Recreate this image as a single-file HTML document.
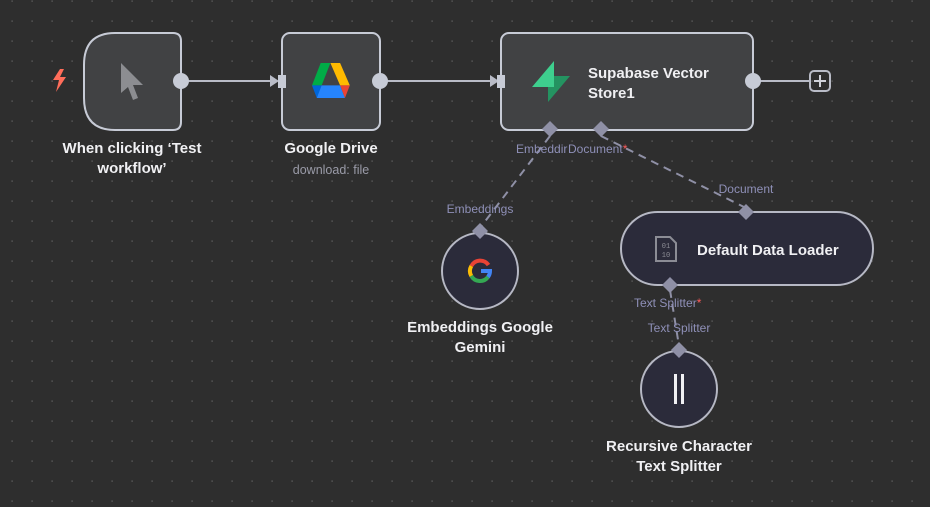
<!DOCTYPE html>
<html><head><meta charset="utf-8"><style>
html,body{margin:0;padding:0;background:#2e2e2e;}
svg{display:block;font-family:"Liberation Sans",sans-serif;}
</style></head><body>
<svg width="930" height="507" viewBox="0 0 930 507" xmlns="http://www.w3.org/2000/svg">
<defs>
<pattern id="d" x="11" y="0" width="20" height="20" patternUnits="userSpaceOnUse">
<rect x="0.5" y="0.5" width="1.2" height="1.2" fill="#6a6a6a"/>
</pattern>
</defs>
<rect width="930" height="507" fill="#2e2e2e"/>
<rect width="930" height="507" fill="url(#d)"/>

<!-- connectors -->
<line x1="181" y1="81" x2="276" y2="81" stroke="#b9bcc7" stroke-width="2"/>
<polygon points="270,75 279,81 270,87" fill="#b9bcc7"/>
<line x1="380" y1="81" x2="497" y2="81" stroke="#b9bcc7" stroke-width="2"/>
<polygon points="490,75 499,81 490,87" fill="#b9bcc7"/>
<line x1="753" y1="81" x2="810" y2="81" stroke="#b9bcc7" stroke-width="2"/>
<rect x="810" y="71" width="20" height="20" rx="4" fill="none" stroke="#b9bcc7" stroke-width="2"/>
<line x1="814" y1="81" x2="826" y2="81" stroke="#d0d2da" stroke-width="2"/>
<line x1="820" y1="75" x2="820" y2="87" stroke="#d0d2da" stroke-width="2"/>

<g stroke="#8f90a6" stroke-width="2" stroke-dasharray="8,6" fill="none">
<path d="M550 136 L480 228"/>
<path d="M601 136 L746 208"/>
<path d="M670 290 L679 346"/>
</g>

<!-- trigger node -->
<path d="M115 33 H173 Q181 33 181 41 V122 Q181 130 173 130 H115 Q84 130 84 98 V65 Q84 33 115 33 Z" fill="#414244" stroke="#c7cbd6" stroke-width="2"/>
<path d="M121 63 L121 93 L128 87 L133 100 L138 98 L133 85 L143 85 Z" fill="#8c8d91"/>
<path d="M60 69 L53 80 L59 80 L56 92 L66 77 L60 77 L64 69 Z" fill="#ff6d5a"/>
<circle cx="181" cy="81" r="8" fill="#c7cbd6"/>

<!-- google drive -->
<rect x="282" y="33" width="98" height="97" rx="8" fill="#414244" stroke="#c7cbd6" stroke-width="2"/>
<rect x="278" y="75" width="8" height="13" fill="#c7cbd6"/>
<g transform="translate(311,63) scale(0.97,1.4)">
<polygon points="10,0 20,0 11,16 1,16" fill="#00ac47"/>
<polygon points="20,0 30,16 40,16 30,0 20,0" fill="#ffba00"/>
<polygon points="1,16 6,25 16,25 11,16" fill="#0066da"/>
<polygon points="11,16 30,16 35,25 6,25" fill="#2684fc"/>
<polygon points="30,16 40,16 35,25" fill="#ea4335"/>
</g>
<circle cx="380" cy="81" r="8" fill="#c7cbd6"/>

<!-- supabase -->
<rect x="501" y="33" width="252" height="97" rx="8" fill="#414244" stroke="#c7cbd6" stroke-width="2"/>
<rect x="497" y="75" width="8" height="13" fill="#c7cbd6"/>
<polygon points="554,61 532,87 554,87" fill="#3ecf8e"/>
<polygon points="548,102 570,76 548,76" fill="#249361"/>
<polygon points="548,76 554,76 554,87 548,87" fill="#3ecf8e"/>
<text x="588" y="78" fill="#f0f0f3" font-size="15" font-weight="bold">Supabase Vector</text>
<text x="588" y="98" fill="#f0f0f3" font-size="15" font-weight="bold">Store1</text>
<circle cx="753" cy="81" r="8" fill="#c7cbd6"/>
<g fill="#8f90a6">
<polygon points="550,121 558,129 550,137 542,129"/>
<polygon points="601,121 609,129 601,137 593,129"/>
</g>
<text x="516" y="153" fill="#8f90b8" font-size="12">Embeddir</text>
<text x="568" y="153" fill="#8f90b8" font-size="12">Document<tspan fill="#ff5c5c">*</tspan></text>

<!-- gemini -->
<circle cx="480" cy="271" r="38" fill="#2b2b3a" stroke="#b6b8c4" stroke-width="2"/>
<polygon points="480,223 488,231 480,239 472,231" fill="#8f90a6"/>
<text x="480" y="213" fill="#8f90b8" font-size="12" text-anchor="middle">Embeddings</text>
<g transform="translate(480,271)" fill="none" stroke-width="4">
<path d="M8.5 -6 A10 10 0 0 0 -8.7 -5" stroke="#ea4335"/>
<path d="M-8.7 -5 A10 10 0 0 0 -8.7 5" stroke="#fbbc05"/>
<path d="M-8.7 5 A10 10 0 0 0 8 6" stroke="#34a853"/>
<path d="M8 6 A10 10 0 0 0 10 0 H1" stroke="#4285f4"/>
</g>
<text x="480" y="332" fill="#f0f0f3" font-size="15" font-weight="bold" text-anchor="middle">Embeddings Google</text>
<text x="480" y="352" fill="#f0f0f3" font-size="15" font-weight="bold" text-anchor="middle">Gemini</text>

<!-- default data loader -->
<rect x="621" y="212" width="252" height="73" rx="36.5" fill="#2b2b3a" stroke="#b6b8c4" stroke-width="2"/>
<polygon points="746,204 754,212 746,220 738,212" fill="#8f90a6"/>
<text x="746" y="193" fill="#8f90b8" font-size="12" text-anchor="middle">Document</text>
<path d="M656 237 H670 L676 243 V261 H656 Z" fill="none" stroke="#8c8d95" stroke-width="2"/>
<text x="666" y="248" fill="#8c8d95" font-size="7" font-family="Liberation Mono" text-anchor="middle">01</text>
<text x="666" y="257" fill="#8c8d95" font-size="7" font-family="Liberation Mono" text-anchor="middle">10</text>
<text x="697" y="255" fill="#f0f0f3" font-size="15" font-weight="bold">Default Data Loader</text>
<polygon points="670,277 678,285 670,293 662,285" fill="#8f90a6"/>
<text x="634" y="307" fill="#8f90b8" font-size="12">Text Splitter<tspan fill="#ff5c5c">*</tspan></text>

<!-- recursive -->
<text x="679" y="332" fill="#8f90b8" font-size="12" text-anchor="middle">Text Splitter</text>
<circle cx="679" cy="389" r="38" fill="#2b2b3a" stroke="#b6b8c4" stroke-width="2"/>
<polygon points="679,342 687,350 679,358 671,350" fill="#8f90a6"/>
<rect x="674" y="374" width="3" height="30" fill="#f0f0f3"/>
<rect x="681" y="374" width="3" height="30" fill="#f0f0f3"/>
<text x="679" y="451" fill="#f0f0f3" font-size="15" font-weight="bold" text-anchor="middle">Recursive Character</text>
<text x="679" y="471" fill="#f0f0f3" font-size="15" font-weight="bold" text-anchor="middle">Text Splitter</text>

<!-- labels -->
<text x="132" y="153" fill="#f0f0f3" font-size="15" font-weight="bold" text-anchor="middle">When clicking ‘Test</text>
<text x="132" y="173" fill="#f0f0f3" font-size="15" font-weight="bold" text-anchor="middle">workflow’</text>
<text x="331" y="153" fill="#f0f0f3" font-size="15" font-weight="bold" text-anchor="middle">Google Drive</text>
<text x="331" y="174" fill="#9a9ba8" font-size="12.5" text-anchor="middle">download: file</text>
</svg>
</body></html>
